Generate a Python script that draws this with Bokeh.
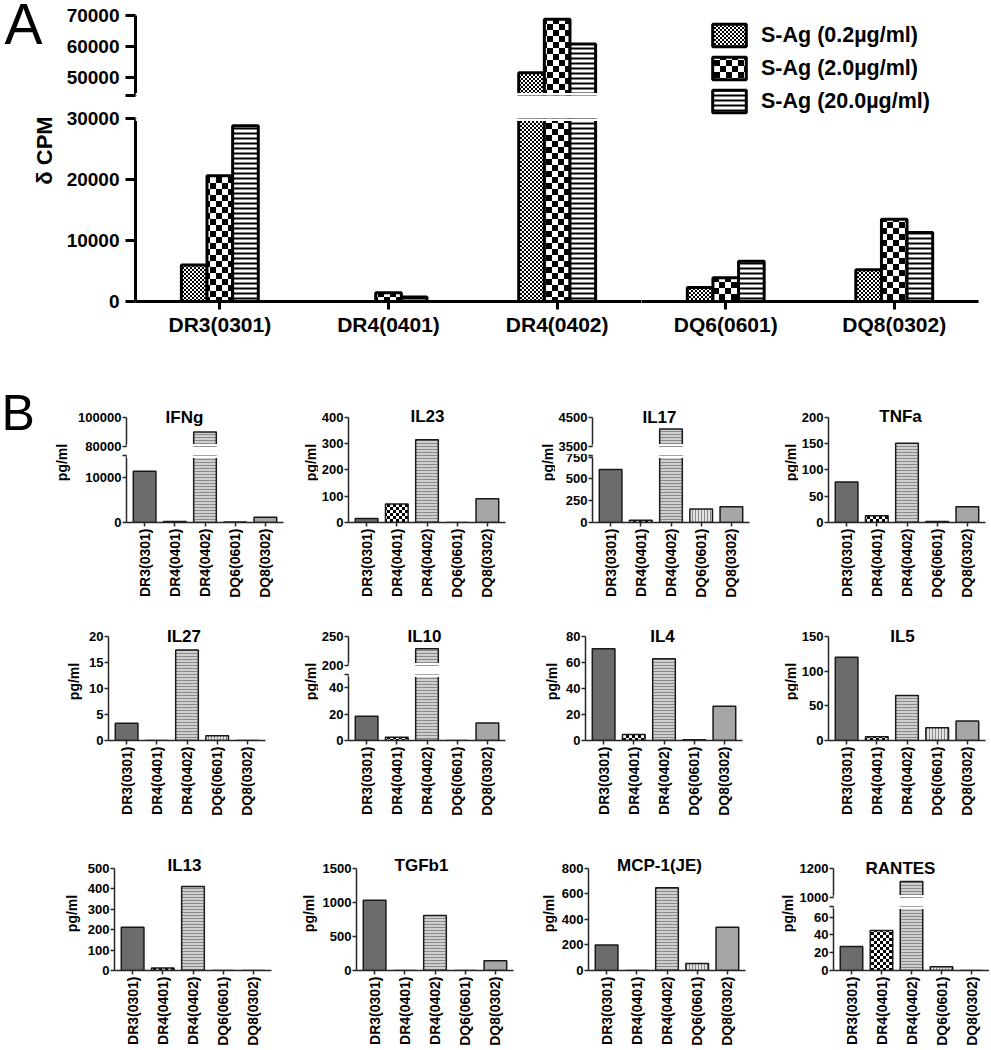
import math
import zlib
import struct
import base64
from bokeh.plotting import figure
from bokeh.models import (FactorRange, Range1d, FixedTicker, Label, Legend, LegendItem,
                          ImageURLTexture, ColumnDataSource, NumeralTickFormatter,
                          BoxAnnotation)
from bokeh.core.properties import value
from bokeh.layouts import row, column
from bokeh.transform import dodge
from bokeh.embed import file_html
from bokeh.resources import INLINE

# ---------------- data ----------------
CATEGORIES = ["DR3(0301)", "DR4(0401)", "DR4(0402)", "DQ6(0601)", "DQ8(0302)"]

SAG_LABELS = ["S-Ag (0.2µg/ml)", "S-Ag (2.0µg/ml)", "S-Ag (20.0µg/ml)"]
SAG_0_2 = [6000, 0, 51400, 2300, 5200]
SAG_2_0 = [20600, 1450, 68800, 3900, 13500]
SAG_20_0 = [28800, 750, 60700, 6600, 11300]

A_UPPER_RANGE = (44000, 70000)
A_UPPER_TICKS = [50000, 60000, 70000]
A_LOWER_MAX = 30000
A_LOWER_TICKS = [0, 10000, 20000, 30000]
A_YLABEL = "δ CPM"

IFNG = [11500, 200, 90000, 100, 1200]
IL23 = [15, 70, 315, 0, 90]
IL17 = [610, 25, 4100, 155, 180]
TNFA = [77, 13, 151, 2, 30]
IL27 = [3.3, 0, 17.4, 0.9, 0]
IL10 = [18.3, 2.5, 229, 0, 13.2]
IL4 = [70.5, 4.6, 62.8, 0.5, 26.4]
IL5 = [120, 5.5, 65, 18.3, 28]
IL13 = [211, 12, 410, 0, 0]
TGFB1 = [1030, 0, 805, 0, 142]
MCP1 = [200, 0, 646, 54, 338]
RANTES = [27, 45, 1110, 4.3, 0]

IFNG_TICKS, IFNG_MAX, IFNG_UPPER = [0, 10000], 15000, (80000, 100000)
IL23_TICKS, IL23_MAX = [0, 100, 200, 300, 400], 400
IL17_TICKS, IL17_MAX, IL17_UPPER = [0, 250, 500, 750], 770, (3500, 4500)
TNFA_TICKS, TNFA_MAX = [0, 50, 100, 150, 200], 200
IL27_TICKS, IL27_MAX = [0, 5, 10, 15, 20], 20
IL10_TICKS, IL10_MAX, IL10_UPPER = [0, 20, 40], 50, (200, 250)
IL4_TICKS, IL4_MAX = [0, 20, 40, 60, 80], 80
IL5_TICKS, IL5_MAX = [0, 50, 100, 150], 150
IL13_TICKS, IL13_MAX = [0, 100, 200, 300, 400, 500], 500
TGFB1_TICKS, TGFB1_MAX = [0, 500, 1000, 1500], 1500
MCP1_TICKS, MCP1_MAX = [0, 200, 400, 600, 800], 800
RANTES_TICKS, RANTES_MAX, RANTES_UPPER = [0, 20, 40, 60], 72, (1000, 1200)

Y_UNIT = "pg/ml"

B_PANELS = [
    ("IFNg", IFNG, IFNG_MAX, IFNG_TICKS, IFNG_UPPER),
    ("IL23", IL23, IL23_MAX, IL23_TICKS, None),
    ("IL17", IL17, IL17_MAX, IL17_TICKS, IL17_UPPER),
    ("TNFa", TNFA, TNFA_MAX, TNFA_TICKS, None),
    ("IL27", IL27, IL27_MAX, IL27_TICKS, None),
    ("IL10", IL10, IL10_MAX, IL10_TICKS, IL10_UPPER),
    ("IL4", IL4, IL4_MAX, IL4_TICKS, None),
    ("IL5", IL5, IL5_MAX, IL5_TICKS, None),
    ("IL13", IL13, IL13_MAX, IL13_TICKS, None),
    ("TGFb1", TGFB1, TGFB1_MAX, TGFB1_TICKS, None),
    ("MCP-1(JE)", MCP1, MCP1_MAX, MCP1_TICKS, None),
    ("RANTES", RANTES, RANTES_MAX, RANTES_TICKS, RANTES_UPPER),
]

# ---------------- styles / layout ----------------
FONT = "Liberation Sans"


def checker_png(cell):
    n = cell * 2
    raw = b""
    for y in range(n):
        line = bytearray([0])
        for x in range(n):
            black = ((x // cell) + (y // cell)) % 2 == 0
            line += bytes([0, 0, 0, 255]) if black else bytes([255, 255, 255, 255])
        raw += bytes(line)

    def chunk(t, d):
        c = struct.pack(">I", len(d)) + t + d
        return c + struct.pack(">I", zlib.crc32(t + d) & 0xFFFFFFFF)

    png = (b"\x89PNG\r\n\x1a\n"
           + chunk(b"IHDR", struct.pack(">IIBBBBB", n, n, 8, 6, 0, 0, 0))
           + chunk(b"IDAT", zlib.compress(raw))
           + chunk(b"IEND", b""))
    return "data:image/png;base64," + base64.b64encode(png).decode()


TEX = {
    "chk2": ImageURLTexture(url=checker_png(2)),
    "chk3": ImageURLTexture(url=checker_png(3)),
    "chk6": ImageURLTexture(url=checker_png(6)),
}

A_STYLES = [
    dict(fill_color="white", hatch_pattern=value("chk2")),
    dict(fill_color="white", hatch_pattern=value("chk6")),
    dict(fill_color="white", hatch_pattern=value("horizontal_line"), hatch_color="black",
         hatch_scale=5, hatch_weight=2),
]
A_OFFSETS = [-0.152, 0.0, 0.152]

B_STYLES = [
    dict(fill_color="#6c6c6c"),
    dict(fill_color="white", hatch_pattern=value("chk3")),
    dict(fill_color="#cfcfcf", hatch_pattern=value("horizontal_line"), hatch_color="#8a8a8a",
         hatch_scale=3, hatch_weight=1),
    dict(fill_color="#e2e2e2", hatch_pattern=value("vertical_line"), hatch_color="#8a8a8a",
         hatch_scale=3, hatch_weight=1),
    dict(fill_color="#a6a6a6"),
]

ROWS = [dict(top=345, h=255, ft=417, fh=106),
        dict(top=600, h=220, ft=636, fh=104),
        dict(top=820, h=228, ft=868, fh=105)]
COL_X = [0, 286, 518, 754]
COL_W = [286, 232, 236, 235]
AXIS_X = [125, 347, 591, 827, 107, 347, 584, 827, 113, 355, 587, 832]
TITLE_X = [183, 426, 658, 899, 182.5, 423, 661, 901, 183, 420, 658, 899]
YLAB_X = [61.5, 313, 548, 791.5, 73, 313, 551.5, 791.5, 71.7, 308, 548, 787]
FW = 158
RIGHT_EDGE = 989
SEG_H = 29
SEG_GAP = 9
SEG_PAD = 8
EXT = 14
DIGIT_W = 7.23
MASK_PX = 2.5


def base_fig(width, height, mbl, mbr, mbt, mbb, y0, y1, x_axis=True, factors=None,
             padding=0.1, units="absolute", y_axis=True):
    p = figure(width=width, height=height,
               x_range=FactorRange(factors=factors or CATEGORIES, range_padding=padding,
                                   range_padding_units=units),
               y_range=Range1d(y0, y1), output_backend="svg", toolbar_location=None,
               x_axis_location="below" if x_axis else None,
               y_axis_location="left" if y_axis else None,
               min_border_left=mbl, min_border_right=mbr,
               min_border_top=mbt, min_border_bottom=mbb)
    p.outline_line_color = None
    p.grid.visible = False
    p.background_fill_color = "white"
    p.border_fill_color = "white"
    return p


def plain_fig(width, height, mbl=0, mbr=0, mbt=0, mbb=0):
    p = figure(width=width, height=height, x_range=Range1d(0, 1), y_range=Range1d(0, 1),
               x_axis_location=None, y_axis_location=None, output_backend="svg",
               toolbar_location=None, min_border_left=mbl, min_border_right=mbr,
               min_border_top=mbt, min_border_bottom=mbb)
    p.outline_line_color = None
    p.grid.visible = False
    return p


def mask(p, y0, y1):
    p.add_layout(BoxAnnotation(bottom=y0, top=y1, fill_color="white", fill_alpha=1.0,
                               line_alpha=0))


def style_axis(ax, lw, color, tick_out, size, standoff):
    ax.axis_line_width = lw
    ax.axis_line_color = color
    ax.major_tick_line_width = lw
    ax.major_tick_line_color = color
    ax.major_tick_out = tick_out
    ax.major_tick_in = 0
    ax.minor_tick_out = 0
    ax.minor_tick_in = 0
    ax.major_label_text_font = FONT
    ax.major_label_text_font_size = size
    ax.major_label_text_font_style = "bold"
    ax.major_label_text_color = "black"
    ax.major_label_standoff = standoff


def text_label(x, y, text, size, angle=0.0, bold=True, align="center", baseline="middle"):
    return Label(x=x, y=y, x_units="screen", y_units="screen", text=text, angle=angle,
                 text_font=FONT, text_font_size=size,
                 text_font_style="bold" if bold else "normal", text_align=align,
                 text_baseline=baseline, text_color="black")


# ---------------- panel A ----------------
A_SERIES = [SAG_0_2, SAG_2_0, SAG_20_0]
LEFT_CATS = CATEGORIES[:3]
RIGHT_CATS = CATEGORIES[3:]


def a_bars(p, cats, lo=None):
    rs = []
    for ser, off, st in zip(A_SERIES, A_OFFSETS, A_STYLES):
        keep = [(c, v) for c, v in zip(CATEGORIES, ser)
                if c in cats and (lo is None or v > lo)]
        src = ColumnDataSource(dict(cat=[k[0] for k in keep], v=[k[1] for k in keep]))
        rs.append(p.vbar(x=dodge("cat", off, range=p.x_range), top="v", bottom=0,
                         width=0.152, source=src, line_color="black", line_width=3,
                         hatch_extra=TEX, **st))
    return rs


a_fig = plain_fig(55, 105)
a_fig.add_layout(text_label(4, 82, "A", "57px", bold=False, align="left"))

pa_top = base_fig(586, 105, 80, 0, 15, 10, A_UPPER_RANGE[0], A_UPPER_RANGE[1],
                  x_axis=False, factors=LEFT_CATS, padding=0, units="percent")
a_bars(pa_top, LEFT_CATS, lo=A_UPPER_RANGE[0])
style_axis(pa_top.yaxis[0], 3, "black", 10, "19px", 6)
pa_top.yaxis[0].ticker = FixedTicker(ticks=[A_UPPER_RANGE[0]] + A_UPPER_TICKS)
pa_top.yaxis[0].major_label_overrides = {A_UPPER_RANGE[0]: ""}
pa_top.yaxis[0].formatter = NumeralTickFormatter(format="0")
_a_span = A_UPPER_RANGE[1] - A_UPPER_RANGE[0]
mask(pa_top, A_UPPER_RANGE[0], A_UPPER_RANGE[0] + _a_span / 80 * MASK_PX)

d_fig = plain_fig(60, 240)
d_fig.add_layout(text_label(44, 195, A_YLABEL, "22px", angle=math.pi / 2))

pa_left = base_fig(581, 240, 75, 0, 13, 44, 0, A_LOWER_MAX, factors=LEFT_CATS, padding=0,
                   units="percent")
a_bars(pa_left, LEFT_CATS)
style_axis(pa_left.yaxis[0], 3, "black", 10, "19px", 6)
pa_left.yaxis[0].ticker = FixedTicker(ticks=A_LOWER_TICKS)
pa_left.yaxis[0].formatter = NumeralTickFormatter(format="0")
style_axis(pa_left.xaxis[0], 3, "black", 8, "21px", 3)
mask(pa_left, A_LOWER_MAX - A_LOWER_MAX / 183 * MASK_PX, A_LOWER_MAX)

# right part of panel A: same scale, frame extends up to hold the legend
pa_right = base_fig(348, 345, 0, 11, 15, 44, 0, A_LOWER_MAX * 286 / 183,
                    factors=RIGHT_CATS, padding=0, units="percent", y_axis=False)
right_renderers = a_bars(pa_right, RIGHT_CATS)
style_axis(pa_right.xaxis[0], 3, "black", 8, "21px", 3)
legend = Legend(items=[LegendItem(label=lab, renderers=[r])
                       for lab, r in zip(SAG_LABELS, right_renderers)],
                location=(67, 186), glyph_width=42, glyph_height=28,
                spacing=5, padding=0, margin=0, label_standoff=11, label_text_font=FONT,
                label_text_font_style="bold", label_text_font_size="21.5px",
                label_text_color="black", border_line_color=None,
                background_fill_alpha=0)
pa_right.add_layout(legend)

panel_a = row(column(row(column(a_fig), pa_top), row(column(d_fig), pa_left)), pa_right)


# ---------------- panel B ----------------
def draw_bars(p, vals, lo=None):
    for i, cat in enumerate(CATEGORIES):
        if lo is not None and vals[i] <= lo:
            continue
        p.vbar(x=[cat], top=[vals[i]], bottom=0, width=0.75, line_color="#1a1a1a",
               line_width=1.5, hatch_extra=TEX, **B_STYLES[i])


def style_b_y(p, ticks, bounds=None, blank=None):
    ax = p.yaxis[0]
    style_axis(ax, 1.5, "#262626", 4, "13px", 1)
    t = list(ticks)
    if blank is not None and blank not in t:
        t.append(blank)
        ax.major_label_overrides = {blank: ""}
    ax.ticker = FixedTicker(ticks=t)
    ax.formatter = NumeralTickFormatter(format="0.[0]")
    if bounds is not None:
        ax.bounds = bounds


def style_b_x(p):
    ax = p.xaxis[0]
    style_axis(ax, 1.5, "#262626", 4, "14px", 2)
    ax.major_label_orientation = math.pi / 2


def b_panel(idx, name, vals, lower_max, lower_ticks, upper):
    r, c = divmod(idx, 4)
    g = ROWS[r]
    col_x, col_w = COL_X[c], COL_W[c]
    ax_x = AXIS_X[idx]
    fw = min(FW, RIGHT_EDGE - ax_x)
    all_ticks = list(lower_ticks) + (list(upper) if upper else [])
    widest = max(len(f"{t:g}") for t in all_ticks) * DIGIT_W
    right = int(ax_x - widest - 6.5)
    lw = right - col_x
    w = col_w - lw
    mbl = ax_x - right
    mbr = w - mbl - fw
    bottom_abs = g["top"] + g["h"]

    lab = plain_fig(lw, g["h"])
    lab.add_layout(text_label(min(YLAB_X[idx], right - 8) - col_x,
                              bottom_abs - (g["ft"] + 45), Y_UNIT, "14px",
                              angle=math.pi / 2))
    if idx == 0:
        lab.add_layout(text_label(1, bottom_abs - 412, "B", "50px", bold=False,
                                  align="left"))

    mbt = g["ft"] - EXT - g["top"]
    if upper is None:
        p = base_fig(w, g["h"], mbl, mbr, mbt, g["h"] - mbt - g["fh"] - EXT,
                     0, lower_max * (g["fh"] + EXT) / g["fh"], True)
        draw_bars(p, vals)
        style_b_y(p, lower_ticks, bounds=(0, lower_max))
        style_b_x(p)
        p.add_layout(text_label(TITLE_X[idx] - ax_x, g["fh"], name, "17px"))
        return row(column(lab), p)

    lo, hi = upper
    top_h = mbt + SEG_H + EXT + SEG_PAD
    pt = base_fig(w, top_h, mbl, mbr, mbt, SEG_PAD, lo, hi + (hi - lo) * EXT / SEG_H, False)
    draw_bars(pt, vals, lo=lo)
    style_b_y(pt, [lo, hi], bounds=(lo, hi))
    mask(pt, lo, lo + (hi - lo) / SEG_H * MASK_PX)
    pt.add_layout(text_label(TITLE_X[idx] - ax_x, SEG_H, name, "17px"))
    bot_h = g["h"] - top_h
    bot_ft = g["ft"] + SEG_H + SEG_GAP
    bmbt = bot_ft - (g["top"] + top_h)
    bfh = g["ft"] + g["fh"] - bot_ft
    pb = base_fig(w, bot_h, mbl, mbr, bmbt, bot_h - bmbt - bfh, 0, lower_max, True)
    draw_bars(pb, vals)
    style_b_y(pb, lower_ticks, blank=lower_max)
    style_b_x(pb)
    mask(pb, lower_max - lower_max / bfh * MASK_PX, lower_max)
    return row(column(lab), column(pt, pb))


blocks = [b_panel(i, *spec) for i, spec in enumerate(B_PANELS)]
rows_b = [row(*blocks[i * 4:(i + 1) * 4]) for i in range(3)]

layout = column(panel_a, *rows_b)

open("out.html", "w").write(file_html(layout, INLINE))
